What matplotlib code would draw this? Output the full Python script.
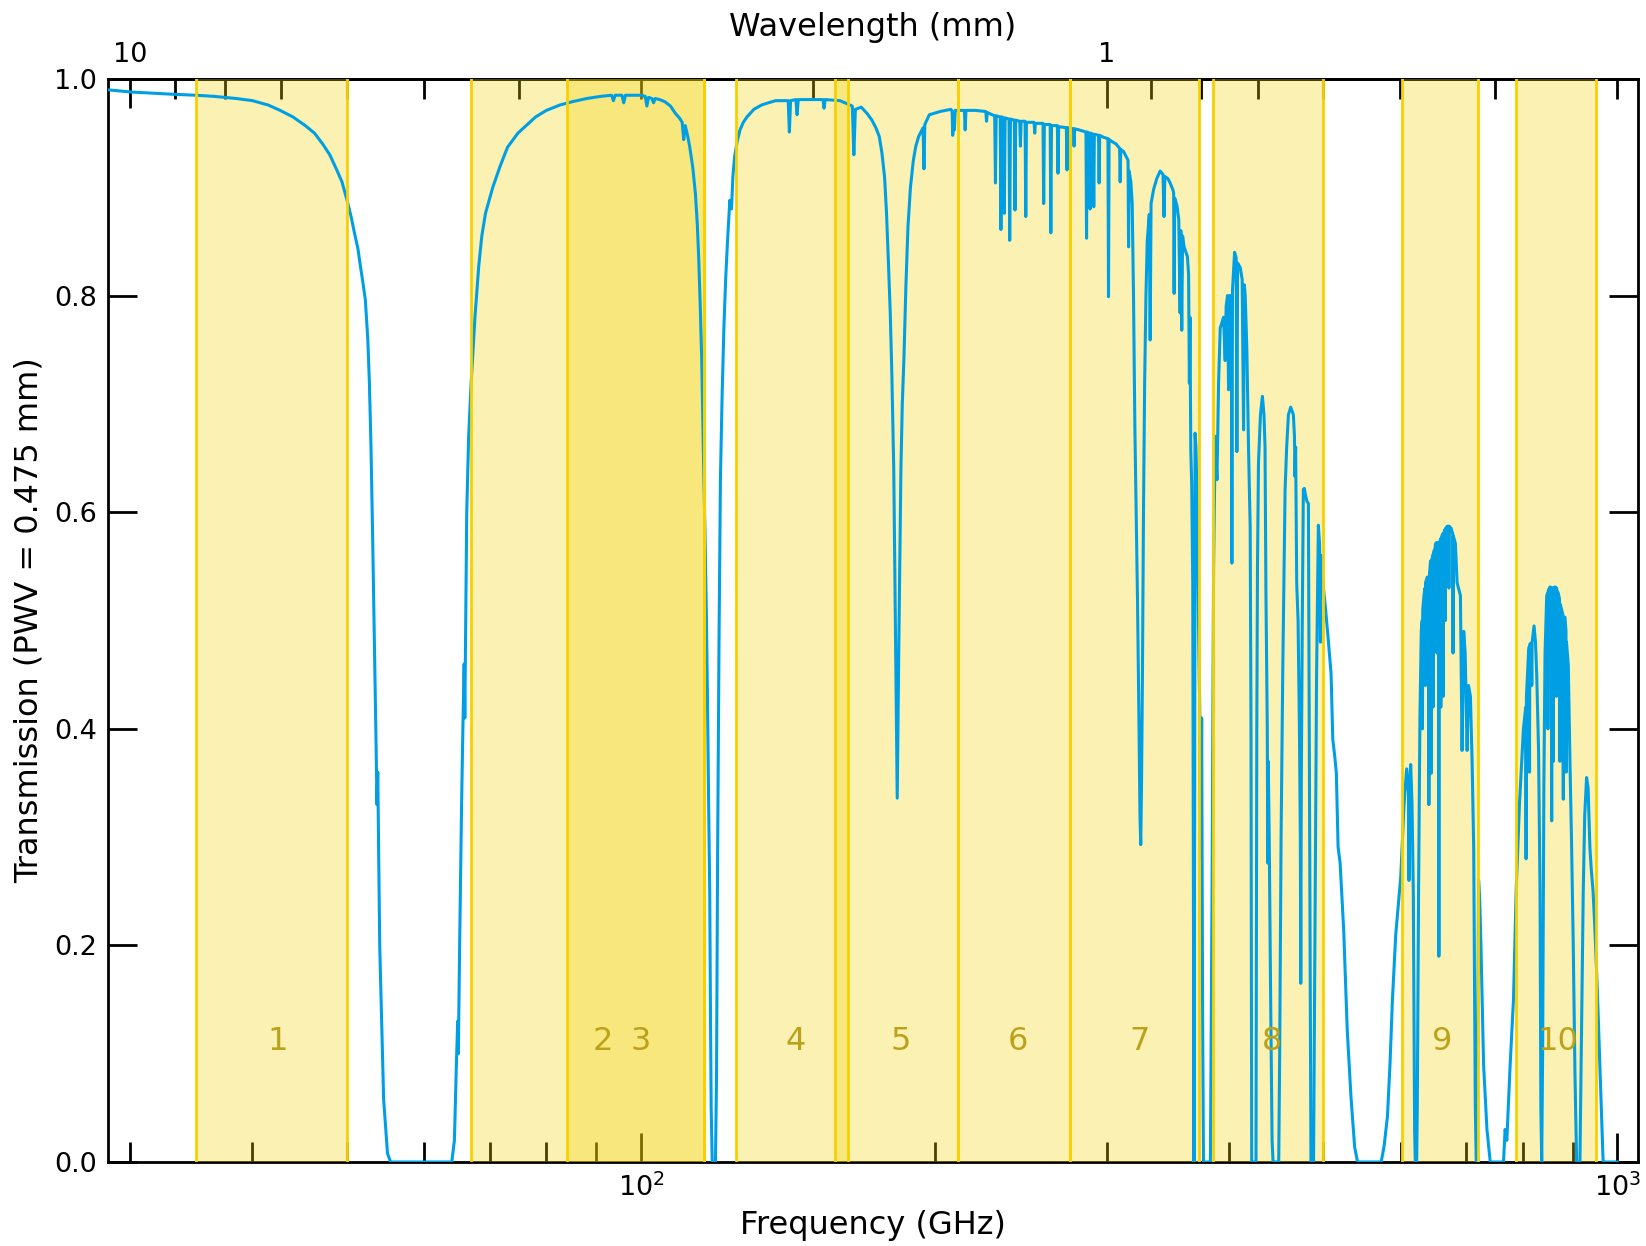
import numpy as np
import matplotlib
matplotlib.use("Agg")
import matplotlib.pyplot as plt
from matplotlib.ticker import FuncFormatter, NullFormatter

# Atmospheric transmission, (GHz, transmission)
seg_a = [(28.45, 0.990), (30, 0.988), (33, 0.986), (35, 0.985), (36.5, 0.984), (38.5, 0.982),
         (40, 0.980), (41.5, 0.976), (42.7, 0.971), (44.0, 0.965), (45.3, 0.957), (46.3, 0.950),
         (47.2, 0.940), (48.0, 0.930), (48.8, 0.916), (49.4, 0.905), (50, 0.888), (50.5, 0.872),
         (50.9, 0.857), (51.3, 0.843), (51.6, 0.827), (51.9, 0.812), (52.2, 0.796), (52.5, 0.76),
         (52.7, 0.72), (52.9, 0.66), (53.1, 0.58), (53.4, 0.45), (53.55, 0.38),
         (53.65, 0.33), (53.75, 0.36), (54.0, 0.20), (54.5, 0.058), (55.0, 0.008), (55.4, 0.0),
         (64.0, 0.0), (64.4, 0.02), (64.7, 0.09), (64.9, 0.13), (65.0, 0.10), (65.2, 0.20),
         (65.5, 0.33), (65.7, 0.40), (65.9, 0.46), (66.0, 0.41), (66.3, 0.60), (66.6, 0.67),
         (67.0, 0.72), (67.6, 0.78), (68.2, 0.827), (68.7, 0.855), (69.3, 0.876), (70.5, 0.90),
         (71.7, 0.919), (73.0, 0.937), (74.8, 0.950), (76.5, 0.958), (78.0, 0.965), (80.0, 0.971),
         (82.6, 0.976), (85.0, 0.979), (88.0, 0.982), (91.0, 0.984), (93.3, 0.985), (93.7, 0.980),
         (94.1, 0.985), (95.6, 0.985), (96.0, 0.978), (96.4, 0.985), (100.0, 0.985), (101.0, 0.984),
         (101.4, 0.975), (101.8, 0.983), (102.6, 0.982), (103.0, 0.978), (103.4, 0.982), (104.5, 0.981),
         (105.8, 0.979), (107.2, 0.975), (108.5, 0.968), (109.5, 0.964), (110.2, 0.960), (110.6, 0.944),
         (111.0, 0.957), (111.6, 0.948), (112.2, 0.937), (113.0, 0.918), (113.7, 0.894), (114.2, 0.866),
         (114.6, 0.833), (115.0, 0.79), (115.4, 0.741), (115.9, 0.648), (116.3, 0.58), (116.7, 0.50),
         (117.0, 0.42), (117.3, 0.33), (117.6, 0.25), (117.8, 0.14), (118.0, 0.05), (118.3, 0.0),
         (119.2, 0.0), (119.5, 0.08), (119.8, 0.28), (120.2, 0.48), (120.6, 0.63), (121.1, 0.71),
         (121.6, 0.771), (122.1, 0.815), (122.6, 0.848), (123.3, 0.888), (123.8, 0.88), (124.2, 0.91),
         (124.7, 0.928), (125.5, 0.943)]

seg_b = [(126.3, 0.953), (127.3, 0.960), (128.4, 0.965), (130.5, 0.972), (132.9, 0.976), (135.0, 0.978),
         (137.4, 0.980), (141.5, 0.980), (141.9, 0.951),
         (142.3, 0.980), (144.1, 0.981), (144.5, 0.967), (144.9, 0.981), (150.1, 0.981), (153.6, 0.981),
         (154.0, 0.973), (154.4, 0.981), (159.9, 0.980), (164.6, 0.975), (165.2, 0.930), (165.8, 0.972),
         (168.1, 0.974), (170.5, 0.968), (172.4, 0.962), (174.0, 0.955), (175.4, 0.947), (176.5, 0.932),
         (177.6, 0.910), (178.4, 0.878), (179.2, 0.833), (180.0, 0.785), (180.7, 0.727),
         (181.5, 0.64), (182.3, 0.48), (183.0, 0.336), (183.7, 0.48), (184.6, 0.64), (185.2, 0.70),
         (185.9, 0.741), (186.8, 0.81), (187.7, 0.864), (188.8, 0.90), (190.1, 0.925), (191.2, 0.938),
         (192.5, 0.947), (194.5, 0.955), (194.9, 0.917), (195.3, 0.958),
         (197.4, 0.967), (202.5, 0.970), (207.7, 0.972), (208.3, 0.970), (208.6, 0.948), (208.9, 0.970),
         (209.4, 0.953), (209.8, 0.971), (214.4, 0.971), (214.8, 0.953), (215.2, 0.971), (220.0, 0.971),
         (225.5, 0.970), (225.9, 0.961), (226.3, 0.969), (230.3, 0.966), (230.7, 0.904), (231.1, 0.966),
         (233.3, 0.965), (233.7, 0.861), (234.1, 0.965), (235.3, 0.964), (235.6, 0.876), (236.0, 0.964),
         (238.2, 0.963), (238.6, 0.851), (239.0, 0.963), (241.2, 0.962), (241.6, 0.879), (242.0, 0.962),
         (244.3, 0.961), (244.7, 0.938), (245.1, 0.961), (247.4, 0.961), (247.8, 0.873), (248.2, 0.960),
         (252.7, 0.960), (253.1, 0.950), (253.5, 0.959), (258.1, 0.959), (258.5, 0.885), (258.9, 0.958),
         (262.5, 0.958), (262.9, 0.858), (263.3, 0.957), (267.0, 0.957), (267.4, 0.913), (267.8, 0.956),
         (272.7, 0.955), (273.1, 0.916), (273.5, 0.955), (277.3, 0.954), (277.7, 0.938), (278.1, 0.954),
         (281.0, 0.953), (285.6, 0.951), (286.0, 0.853), (286.4, 0.951), (288.0, 0.950), (288.4, 0.880),
         (288.8, 0.950), (290.5, 0.949), (290.9, 0.882), (291.3, 0.949), (294.2, 0.948), (294.6, 0.904),
         (295.0, 0.948), (298.0, 0.946)]

seg_c = [(300.8, 0.945), (301.2, 0.799), (301.6, 0.944), (304.0, 0.942), (306.6, 0.940), (309.2, 0.936),
         (309.6, 0.905), (310.0, 0.935), (312.1, 0.933), (315.4, 0.925), (315.8, 0.845), (316.2, 0.915),
         (317.5, 0.905), (318.5, 0.885), (319.5, 0.80), (320.5, 0.68), (321.5, 0.60), (322.5, 0.52),
         (323.5, 0.42), (324.4, 0.32), (325.0, 0.293), (325.6, 0.35), (326.3, 0.45), (327.1, 0.60),
         (328.0, 0.72), (329.0, 0.80), (330.0, 0.85), (331.6, 0.875), (332.3, 0.759), (333.0, 0.885),
         (335.0, 0.898), (337.5, 0.908), (340.2, 0.915), (342.5, 0.912), (343.3, 0.873), (344.0, 0.91),
         (346.5, 0.908), (348.3, 0.904), (350.5, 0.898), (351.2, 0.895), (351.6, 0.802), (352.1, 0.89),
         (354.0, 0.883), (355.5, 0.87), (356.6, 0.784), (357.2, 0.86), (358.0, 0.768), (358.7, 0.855),
         (360.0, 0.845), (362.8, 0.836), (363.8, 0.82), (364.5, 0.719), (365.0, 0.78), (365.7, 0.657),
         (366.5, 0.626), (367.4, 0.534), (368.0, 0.25), (368.5, 0.0), (369.0, 0.30), (369.4, 0.673),
         (370.2, 0.66), (370.9, 0.626), (372.4, 0.50), (373.5, 0.42), (374.5, 0.28), (375.2, 0.41),
         (376.0, 0.15), (376.8, 0.0), (383.0, 0.0), (384.5, 0.25), (385.9, 0.55), (387.4, 0.67),
         (389.0, 0.63), (390.5, 0.72), (392.0, 0.77), (395.1, 0.78), (396.6, 0.74), (397.5, 0.79),
         (398.8, 0.80), (399.8, 0.713), (400.8, 0.80), (402.4, 0.80), (402.9, 0.553), (403.5, 0.805),
         (405.5, 0.84), (407.0, 0.835), (407.7, 0.656), (408.4, 0.83), (410.9, 0.826), (412.8, 0.815),
         (414.2, 0.676), (414.9, 0.81), (415.8, 0.80), (417.4, 0.75), (419.1, 0.657), (420.7, 0.586),
         (421.5, 0.40), (422.2, 0.0), (426.5, 0.0), (427.3, 0.40), (428.0, 0.55), (429.0, 0.645),
         (431.0, 0.69), (433.0, 0.707), (434.6, 0.69), (435.7, 0.66), (436.6, 0.528), (437.5, 0.45),
         (438.0, 0.40), (438.5, 0.276), (439.0, 0.37), (440.0, 0.30), (441.5, 0.15), (443.0, 0.02),
         (444.0, 0.0), (450.0, 0.0), (451.0, 0.10), (452.5, 0.30), (454.3, 0.454), (455.0, 0.50),
         (456.8, 0.621), (458.5, 0.66), (460.4, 0.69), (462.9, 0.697), (465.8, 0.69), (467.0, 0.67),
         (467.6, 0.633), (468.3, 0.66), (469.5, 0.534), (471.0, 0.50), (472.5, 0.40), (473.5, 0.30),
         (474.0, 0.165), (474.6, 0.35), (475.7, 0.50), (476.9, 0.621), (478.0, 0.622), (479.5, 0.615),
         (481.0, 0.61), (482.6, 0.608), (483.5, 0.42), (484.5, 0.20), (485.5, 0.0), (488.5, 0.0),
         (490.0, 0.20), (492.0, 0.45), (494.1, 0.588), (495.5, 0.57), (496.5, 0.48), (497.3, 0.56),
         (500.0, 0.53), (502.6, 0.51), (506.0, 0.48), (509.1, 0.451), (511.2, 0.39), (513.5, 0.375),
         (515.5, 0.359), (517.6, 0.291), (520.1, 0.276), (522.3, 0.245), (524.5, 0.214), (528.9, 0.122),
         (533.6, 0.06), (538.2, 0.014), (541.9, 0.0)]

seg_d = [(573.0, 0.0), (577.0, 0.015), (581.5, 0.042), (585.0, 0.09), (588.4, 0.15), (593.0, 0.21),
         (600.0, 0.263), (604.7, 0.33),
         (608.5, 0.363), (611.3, 0.34), (611.8, 0.26), (612.3, 0.34), (614.3, 0.367), (616.2, 0.33),
         (618.1, 0.25), (620.0, 0.03), (621.0, 0.0), (623.0, 0.0), (623.9, 0.05), (625.8, 0.25),
         (627.8, 0.41), (629.8, 0.49), (631.2, 0.50), (631.6, 0.40), (632.0, 0.51), (633.8, 0.523),
         (635.4, 0.53), (635.8, 0.44), (636.2, 0.535), (638.7, 0.54), (640.6, 0.54), (641.2, 0.33),
         (641.8, 0.54), (643.7, 0.555), (644.8, 0.359), (645.8, 0.556), (647.0, 0.56), (647.5, 0.42),
         (648.0, 0.562), (649.6, 0.565), (650.1, 0.48), (650.6, 0.567), (651.4, 0.571), (653.0, 0.572),
         (653.5, 0.47), (654.0, 0.572), (655.8, 0.57), (656.5, 0.19), (657.2, 0.57), (659.0, 0.575),
         (659.5, 0.42), (660.0, 0.576), (662.5, 0.58), (663.2, 0.43), (663.9, 0.58), (666.0, 0.584),
         (666.5, 0.50), (667.0, 0.585), (669.5, 0.587), (671.7, 0.587), (672.2, 0.53), (672.7, 0.587),
         (675.8, 0.585), (678.3, 0.58), (678.8, 0.47), (679.3, 0.578), (682.6, 0.571), (685.3, 0.535),
         (687.5, 0.53), (690.7, 0.523), (693.4, 0.38), (696.1, 0.49), (698.5, 0.47), (701.7, 0.38),
         (704.0, 0.44), (707.2, 0.43), (710.0, 0.37), (712.7, 0.29), (715.4, 0.05), (717.0, 0.0),
         (718.5, 0.0), (721.0, 0.26), (723.0, 0.24), (725.0, 0.20), (729.5, 0.09), (735.3, 0.03),
         (741.1, 0.0), (764.6, 0.0), (767.5, 0.03),
         (770.6, 0.02), (776.7, 0.09), (782.8, 0.15), (787.7, 0.25), (793.9, 0.33), (801.4, 0.40),
         (805.7, 0.42), (806.4, 0.28), (807.1, 0.43), (811.0, 0.47), (812.5, 0.476), (813.0, 0.36),
         (813.5, 0.478), (815.3, 0.479), (816.6, 0.47),
         (817.3, 0.44), (818.0, 0.48), (821.7, 0.495), (824.5, 0.48), (826.9, 0.45), (830.5, 0.38),
         (833.4, 0.25), (835.0, 0.05), (836.7, 0.0), (838.5, 0.10), (841.0, 0.35), (843.3, 0.47),
         (846.6, 0.523), (848.5, 0.525), (849.0, 0.40), (849.5, 0.527), (850.0, 0.528), (853.3, 0.531),
         (855.8, 0.53), (856.6, 0.315), (857.4, 0.53),
         (859.3, 0.53), (860.0, 0.37), (860.7, 0.53), (863.4, 0.531), (865.5, 0.53), (866.0, 0.43),
         (866.5, 0.53), (867.0, 0.528), (870.1, 0.525),
         (872.5, 0.52), (873.3, 0.37), (874.1, 0.515), (877.0, 0.51), (879.6, 0.505), (880.4, 0.335),
         (881.2, 0.503), (883.9, 0.503), (886.0, 0.49), (886.5, 0.36), (887.0, 0.48), (890.8, 0.459),
         (894.3, 0.37), (897.5, 0.30),
         (901.3, 0.20), (905.0, 0.08), (908.5, 0.0), (915.6, 0.0), (918.5, 0.10), (922.8, 0.25),
         (926.0, 0.32), (930.1, 0.355), (933.5, 0.345), (937.4, 0.29), (940.5, 0.27), (944.4, 0.25),
         (948.0, 0.22), (952.0, 0.18), (955.5, 0.14), (959.6, 0.09), (963.5, 0.04), (967.1, 0.0),
         (1000.0, 0.0)]

# ALMA receiver bands (GHz)
band_names = ["1", "2", "3", "4", "5", "6", "7", "8", "9", "10"]
band_lo = [35, 67, 84, 125, 158, 211, 275, 385, 602, 787]
band_hi = [50, 116, 116, 163, 211, 275, 373, 500, 720, 950]

# top axis ticks (mm)
wl_major = [1, 10]
wl_minor = [0.3, 0.4, 0.5, 0.6, 0.7, 0.8, 0.9, 2, 3, 4, 5, 6, 7, 8, 9]

freq, trans = np.array(seg_a + seg_b + seg_c + seg_d).T

fig = plt.figure(figsize=(16.46, 12.46), dpi=100)
ax = fig.add_axes([108 / 1646, 1 - 1162 / 1246, 1530 / 1646, 1083 / 1246])

for lo, hi, name in zip(band_lo, band_hi, band_names):
    ax.axvspan(lo, hi, facecolor="#f3d200", alpha=0.3, lw=0, zorder=2.6)
    ax.axvline(lo, color="#f7d000", lw=2, zorder=2.8)
    ax.axvline(hi, color="#f7d000", lw=2, zorder=2.8)
    ax.text((lo + hi) / 2, 0.111, name, ha="center", va="center",
            fontsize=23, color="#bca21a", zorder=5)

ax.plot(freq, trans, color="#009fe3", lw=2.2, zorder=2.7)

ax.set_xscale("log")
ax.set_xlim(28.45, 1050)
ax.set_ylim(0, 1)
ax.set_yticks([0, 0.2, 0.4, 0.6, 0.8, 1.0])
ax.xaxis.set_minor_formatter(NullFormatter())

ax.tick_params(which="major", direction="in", length=21, width=2, labelsize=19.5, pad=8,
               top=False, right=True)
ax.tick_params(which="minor", direction="in", length=14.5, width=2, top=False, right=False)
for sp in ax.spines.values():
    sp.set_linewidth(2)

ax.set_xlabel("Frequency (GHz)", fontsize=23, labelpad=6)
ax.set_ylabel("Transmission (PWV = 0.475 mm)", fontsize=23, labelpad=7)


def ghz_mm(x):
    x = np.asarray(x, dtype=float)
    with np.errstate(divide="ignore"):
        return 299.792458 / x


secax = ax.secondary_xaxis("top", functions=(ghz_mm, ghz_mm))
secax.set_xticks(wl_major)
secax.set_xticks(wl_minor, minor=True)
secax.xaxis.set_major_formatter(FuncFormatter(lambda v, p: f"{v:g}"))
secax.xaxis.set_minor_formatter(NullFormatter())
secax.tick_params(which="major", direction="in", length=21, width=2, labelsize=19.5, pad=8)
secax.tick_params(which="minor", direction="in", length=14.5, width=2)
secax.spines["top"].set_linewidth(2)
secax.set_xlabel("Wavelength (mm)", fontsize=23)

fig.savefig("out.png", dpi=100)
